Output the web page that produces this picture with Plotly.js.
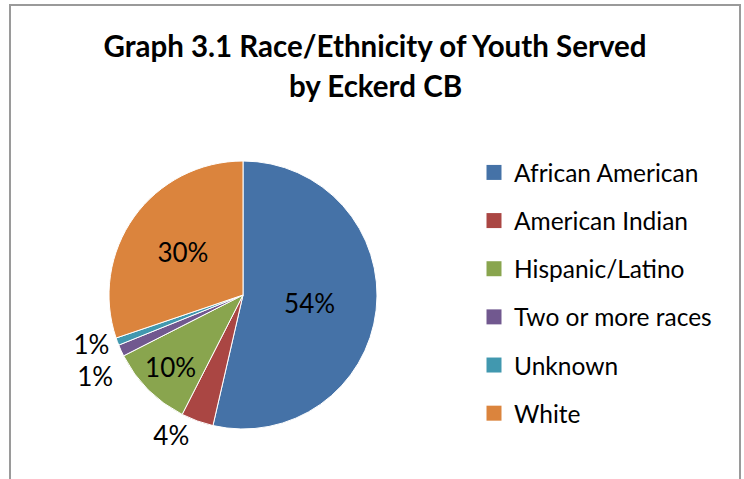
<!DOCTYPE html>
<html>
<head>
<meta charset="utf-8">
<script src="https://cdn.plot.ly/plotly-3.0.1.min.js"></script>
<style>html,body{margin:0;padding:0;background:#fff;}#chart{width:744px;height:479px;}
#chart path.textline{display:none;}</style>
</head>
<body>
<div id="chart"></div>
<script>
// Data
const categories = ["African American", "American Indian", "Hispanic/Latino", "Two or more races", "Unknown", "White"];
const shares = [53.6, 3.9, 10.0, 1.4, 0.9, 30.2];
const colors = ["#4572A7", "#AA4643", "#89A54E", "#71588F", "#4198AF", "#DB843D"];
const labelPositions = ["inside", "outside", "inside", "outside", "outside", "inside"];
const titleLine1 = "Graph 3.1 Race/Ethnicity of Youth Served";
const titleLine2 = "by Eckerd CB";

const W = 744, H = 479;
const FONT = "Lato, 'Open Sans', sans-serif";

const pie = {
  type: "pie",
  labels: categories,
  values: shares,
  sort: false,
  direction: "clockwise",
  rotation: 0,
  marker: {colors: colors, line: {color: "#ffffff", width: 1}},
  texttemplate: "%{percent:.0%}",
  textposition: labelPositions,
  insidetextorientation: "horizontal",
  insidetextfont: {family: FONT, size: 26, color: "#000"},
  outsidetextfont: {family: FONT, size: 26, color: "#000"},
  showlegend: false,
  hoverinfo: "label+percent",
  domain: {x: [(243 - 134) / W, (243 + 134) / W], y: [(H - 295 - 134) / H, (H - 295 + 134) / H]}
};

// legend entries (one per category) so the legend spacing can match
const legendTraces = categories.map((c, i) => ({
  type: "scatter",
  x: [null], y: [null],
  mode: "markers",
  name: c,
  legendgroup: c,
  marker: {symbol: "square", size: 15, color: colors[i]},
  hoverinfo: "skip"
}));

const layout = {
  width: W, height: H,
  margin: {l: 0, r: 0, t: 0, b: 0},
  paper_bgcolor: "#fff",
  plot_bgcolor: "#fff",
  font: {family: FONT, color: "#000"},
  title: {
    text: titleLine1,
    font: {family: FONT, size: 29.5, weight: "bold", color: "#000"},
    x: 375 / W, xanchor: "center",
    y: 1 - 47 / H, yanchor: "middle"
  },
  annotations: [{
    text: titleLine2, showarrow: false,
    xref: "paper", yref: "paper",
    x: 375 / W, xanchor: "center",
    y: 1 - 85 / H, yanchor: "middle",
    font: {family: FONT, size: 29.5, weight: "bold", color: "#000"}
  }],
  xaxis: {visible: false, domain: [0.9, 0.91]},
  yaxis: {visible: false, domain: [0.9, 0.91]},
  legend: {
    x: 474 / W, xanchor: "left",
    y: 1 - 150 / H, yanchor: "top",
    font: {family: FONT, size: 24.5, color: "#000"},
    traceorder: "grouped",
    tracegroupgap: 13.3,
    bgcolor: "rgba(0,0,0,0)"
  },
  shapes: [{
    type: "path", xref: "paper", yref: "paper",
    path: "M " + (10 / W) + " 0 L " + (10 / W) + " " + (1 - 5 / H) + " L " + (740 / W) + " " + (1 - 5 / H) + " L " + (740 / W) + " 0",
    line: {color: "#9a9a9a", width: 2}
  }]
};

Plotly.newPlot("chart", [pie].concat(legendTraces), layout, {displayModeBar: false, staticPlot: true});
</script>
</body>
</html>
